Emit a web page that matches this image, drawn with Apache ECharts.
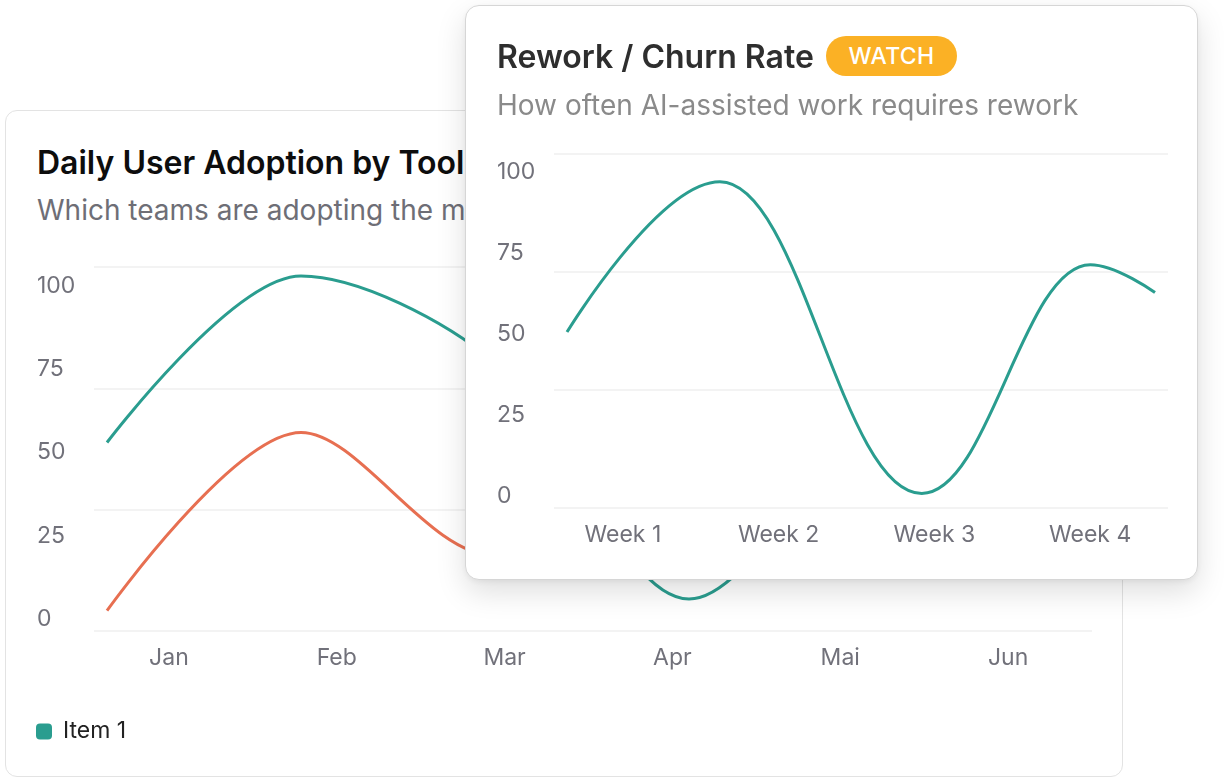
<!DOCTYPE html>
<html>
<head>
<meta charset="utf-8">
<script src="https://cdn.jsdelivr.net/npm/echarts@6/dist/echarts.min.js"></script>
<style>
  html, body { margin: 0; padding: 0; background: #ffffff; }
  body { width: 1224px; height: 784px; position: relative; overflow: hidden; font-family: Inter, "Noto Sans", sans-serif; }
  .card { position: absolute; box-sizing: border-box; background: #ffffff; }
  #backCard { left: 5px; top: 110px; width: 1118px; height: 667px; border: 1.5px solid #e3e3e3; border-radius: 12px; z-index: 1; }
  #frontCard { left: 465px; top: 5px; width: 733px; height: 575px; border: 1.5px solid #d6d6d6; border-radius: 14px; z-index: 3;
               box-shadow: 0 12px 30px rgba(0,0,0,0.13), 0 2px 6px rgba(0,0,0,0.06); }
  .chart { position: absolute; left: 0; top: 0; width: 1224px; height: 784px; pointer-events: none; }
  #backChart { z-index: 2; }
  #frontChart { z-index: 4; }
  .txt { position: absolute; white-space: nowrap; line-height: 1; }
  #backTitle { left: 37px; top: 147px; font-size: 32px; font-weight: 600; color: #0d0d0d; z-index: 2; }
  #backSub { left: 37px; top: 196px; font-size: 28px; font-weight: 400; color: #6e6e76; z-index: 2; }
  #frontTitle { left: 497px; top: 41px; font-size: 32px; font-weight: 600; color: #2e2e2e; z-index: 5; }
  #frontSub { left: 497px; top: 91px; font-size: 28px; font-weight: 400; color: #8a8a8a; z-index: 5; }
  #badge { position: absolute; left: 826px; top: 36px; width: 131px; height: 40px; border-radius: 20px; background: #fbb125;
           color: #ffffff; font-size: 23px; font-weight: 500; line-height: 40px; text-align: center; z-index: 5; letter-spacing: 0.3px; }
</style>
</head>
<body>
<div class="card" id="backCard"></div>
<div class="txt" id="backTitle">Daily User Adoption by Tool</div>
<div class="txt" id="backSub">Which teams are adopting the most AI tools</div>
<div class="chart" id="backChart"></div>
<div class="card" id="frontCard"></div>
<div class="txt" id="frontTitle">Rework / Churn Rate</div>
<div id="badge">WATCH</div>
<div class="txt" id="frontSub">How often AI-assisted work requires rework</div>
<div class="chart" id="frontChart"></div>
<script>
// ---------- data ----------
const months = ['Jan', 'Feb', 'Mar', 'Apr', 'Mai', 'Jun'];
const adoptionItem1 = [53, 103, 77, 6, 62, 80];
const adoptionItem2 = [2.5, 56, 19, 32, 62, 44];
const yTicks = [0, 25, 50, 75, 100];

const weeks = ['Week 1', 'Week 2', 'Week 3', 'Week 4'];
// positions along the week span (0 = first week point, 3 = last) and values
const reworkPos = [0, 0.78, 1.81, 2.67, 3];
const reworkValues = [50.6, 97, 0.8, 71.4, 62.8];

const TEAL = '#2a9d8f';
const ORANGE = '#e76f51';
const LABEL = '#71717a';
const GRIDLINE = '#efefef';
const FONT = 'Inter';

function labelAxisX(gridIndex, cats) {
  return { gridIndex, type: 'category', data: cats, boundaryGap: true,
    axisLine: { show: false }, axisTick: { show: false }, splitLine: { show: false },
    axisLabel: { color: LABEL, fontSize: 23, fontFamily: FONT, margin: 16, lineHeight: 23 } };
}
function hiddenX(gridIndex, cats) {
  return { gridIndex, type: 'category', data: cats, show: false, boundaryGap: false };
}
function gridLineY(gridIndex) {
  return { gridIndex, type: 'value', min: 0, max: 3, interval: 1,
    axisLine: { show: false }, axisTick: { show: false }, axisLabel: { show: false },
    splitLine: { show: true, lineStyle: { color: GRIDLINE, width: 1.5 } } };
}
function labelY(gridIndex, margin) {
  return { gridIndex, type: 'value', min: yTicks[0], max: yTicks[yTicks.length - 1], interval: yTicks[1] - yTicks[0],
    axisLine: { show: false }, axisTick: { show: false }, splitLine: { show: false },
    axisLabel: { color: LABEL, fontSize: 23, fontFamily: FONT, align: 'left', margin: margin } };
}

// ---------- back chart ----------
const back = echarts.init(document.getElementById('backChart'), null, { renderer: 'canvas' });
back.setOption({
  animation: false,
  grid: [
    { left: 94, right: 132, top: 267, bottom: 153 },
    { left: 85, right: 132, top: 267, bottom: 153 },
    { left: 107, right: 147, top: 286, bottom: 165 }
  ],
  xAxis: [ hiddenX(0, months), labelAxisX(1, months), hiddenX(2, months) ],
  yAxis: [ gridLineY(0), { gridIndex: 1, type: 'value', show: false, splitLine: { show: false } }, labelY(2, 70) ],
  legend: {
    data: ['Item 1'], left: 36, top: 720, padding: 0, icon: 'roundRect', itemWidth: 16, itemHeight: 16,
    textStyle: { color: '#222222', fontSize: 23, fontFamily: FONT, padding: [0, 0, 0, 6] }
  },
  series: [
    { name: 'Item 1', type: 'line', xAxisIndex: 2, yAxisIndex: 2, data: adoptionItem1, smooth: 0.32,
      showSymbol: false, clip: false, lineStyle: { color: TEAL, width: 3 }, itemStyle: { color: TEAL } },
    { name: 'Item 2', type: 'line', xAxisIndex: 2, yAxisIndex: 2, data: adoptionItem2, smooth: 0.32,
      showSymbol: false, clip: false, lineStyle: { color: ORANGE, width: 3 }, itemStyle: { color: ORANGE } }
  ]
});

// ---------- front chart ----------
const front = echarts.init(document.getElementById('frontChart'), null, { renderer: 'canvas' });
front.setOption({
  animation: false,
  grid: [
    { left: 554, right: 56, top: 154, bottom: 276 },
    { left: 545, right: 56, top: 154, bottom: 276 },
    { left: 567, right: 69, top: 172, bottom: 288 }
  ],
  xAxis: [
    hiddenX(0, weeks),
    labelAxisX(1, weeks),
    { gridIndex: 2, type: 'value', min: 0, max: weeks.length - 1, show: false }
  ],
  yAxis: [ gridLineY(0), { gridIndex: 1, type: 'value', show: false, splitLine: { show: false } }, labelY(2, 70) ],
  series: [
    { name: 'Rework', type: 'line', xAxisIndex: 2, yAxisIndex: 2,
      data: reworkPos.map((p, i) => [p, reworkValues[i]]),
      smooth: 0.4, smoothMonotone: 'x', showSymbol: false, clip: false,
      lineStyle: { color: TEAL, width: 3 }, itemStyle: { color: TEAL } }
  ]
});
</script>
</body>
</html>
